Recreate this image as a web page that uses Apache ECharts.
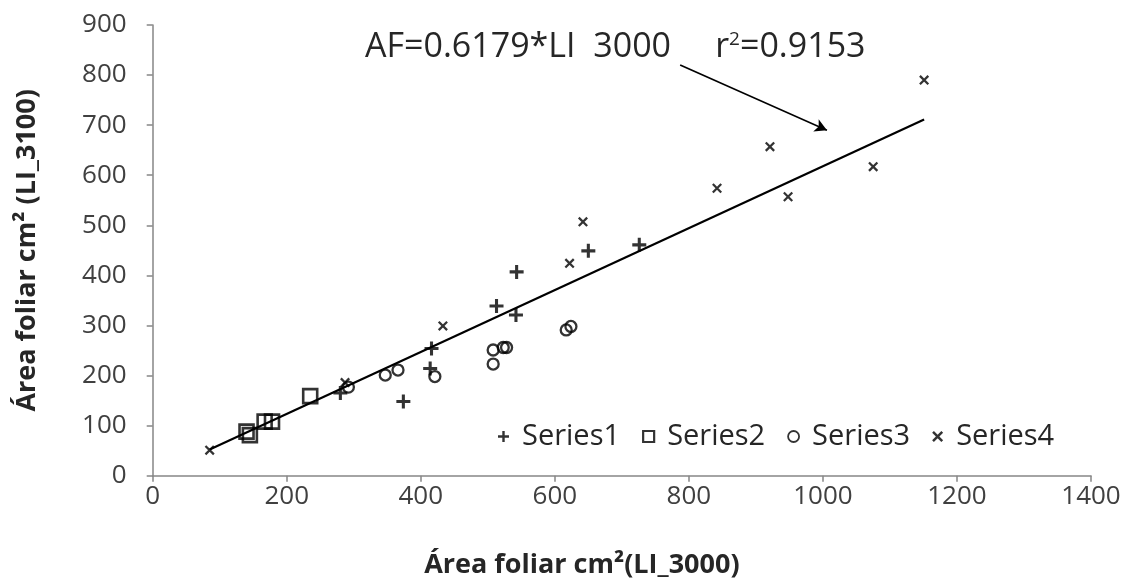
<!DOCTYPE html>
<html>
<head>
<meta charset="utf-8">
<script src="https://cdn.jsdelivr.net/npm/echarts@6/dist/echarts.min.js"></script>
<style>
html,body{margin:0;padding:0;background:#fff;}
#chart{width:1126px;height:584px;}
</style>
</head>
<body>
<div id="chart"></div>
<script>
// ---- data ----
const xTickLabels = [0, 200, 400, 600, 800, 1000, 1200, 1400];
const yTickLabels = [0, 100, 200, 300, 400, 500, 600, 700, 800, 900];

const series1X = [280, 374, 414, 416, 513, 542, 543, 650, 726];
const series1Y = [165, 148, 214, 254, 339, 321, 407, 449, 461];

const series2X = [140, 145, 167, 178, 235];
const series2Y = [88, 81, 108, 108, 159];

const series3X = [292, 347, 366, 421, 508, 508, 523, 528, 617, 624];
const series3Y = [177, 201, 211, 198, 251, 223, 256, 256, 291, 298];

const series4X = [85, 287, 433, 622, 642, 842, 921, 948, 1075, 1151];
const series4Y = [51, 186, 299, 424, 507, 574, 657, 557, 617, 790];

const seriesNames = ['Series1', 'Series2', 'Series3', 'Series4'];
const trendSlope = 0.6179;
const rSquared = 0.9153;
const arrowStart = [787, 820];
const arrowEnd = [1006, 690];

// ---- build ----
const zip = (xs, ys) => xs.map((x, i) => [x, ys[i]]);
const allX = [].concat(series1X, series2X, series3X, series4X);
const xMinData = Math.min(...allX), xMaxData = Math.max(...allX);

const FONT = '"Open Sans", "Liberation Sans", sans-serif';
const PLUS = 'path://M3.9,0H6.1V10H3.9Z M0,3.9H10V6.1H0Z';
const CROSS = 'path://M0,1.6L1.6,0L10,8.4L8.4,10Z M8.4,0L10,1.6L1.6,10L0,8.4Z';

const chart = echarts.init(document.getElementById('chart'), null, {renderer: 'canvas'});

const axisCommon = {
  axisLine: {show: true, lineStyle: {color: '#868686', width: 1.5}},
  axisTick: {show: true, length: 6, lineStyle: {color: '#868686', width: 1.5}},
  splitLine: {show: false},
  axisLabel: {color: '#404040', fontFamily: FONT, fontSize: 26, formatter: v => String(v)},
  nameTextStyle: {color: '#262626', fontFamily: FONT, fontSize: 27, fontWeight: 'bold'}
};

chart.setOption({
  animation: false,
  backgroundColor: '#fff',
  grid: {left: 152.7, right: 35, top: 25, bottom: 108.3, containLabel: false},
  xAxis: Object.assign({}, axisCommon, {
    type: 'value',
    min: xTickLabels[0], max: xTickLabels[xTickLabels.length - 1],
    interval: xTickLabels[1] - xTickLabels[0],
    name: 'Área foliar cm²(LI_3000)',
    nameLocation: 'middle', nameGap: 76,
    nameTextStyle: Object.assign({}, axisCommon.nameTextStyle, {padding: [0, 80, 0, 0]}),
    axisLabel: Object.assign({}, axisCommon.axisLabel, {margin: 8})
  }),
  yAxis: Object.assign({}, axisCommon, {
    type: 'value',
    min: yTickLabels[0], max: yTickLabels[yTickLabels.length - 1],
    interval: yTickLabels[1] - yTickLabels[0],
    name: 'Área foliar cm² (LI_3100)',
    nameLocation: 'middle', nameGap: 112,
    axisLabel: Object.assign({}, axisCommon.axisLabel, {margin: 26})
  }),
  legend: {
    left: 493, top: 417,
    itemGap: 22, itemWidth: 11, itemHeight: 11,
    textStyle: {color: '#262626', fontFamily: FONT, fontSize: 29, padding: [0, 0, 0, 8]},
    data: [
      {name: seriesNames[0], icon: PLUS, itemStyle: {color: '#000'}},
      {name: seriesNames[1], icon: 'rect', itemStyle: {color: '#fff', borderColor: '#000', borderWidth: 2.2}},
      {name: seriesNames[2], icon: 'circle', itemStyle: {color: '#fff', borderColor: '#000', borderWidth: 1.8}},
      {name: seriesNames[3], icon: CROSS, itemStyle: {color: '#000'}}
    ]
  },
  series: [
    {
      name: 'trend', type: 'line', silent: true, symbol: 'none',
      data: [[xMinData, trendSlope * xMinData], [xMaxData, trendSlope * xMaxData]],
      lineStyle: {color: '#000', width: 2.2},
      z: 1,
      markLine: {
        silent: true, symbol: ['none', 'arrow'], symbolSize: [10, 12],
        label: {show: false},
        lineStyle: {color: '#000', width: 1.6, type: 'solid'},
        data: [[{coord: arrowStart}, {coord: arrowEnd}]]
      }
    },
    {
      name: seriesNames[0], type: 'scatter', data: zip(series1X, series1Y),
      symbol: PLUS, symbolSize: 14, itemStyle: {color: '#000'}, z: 3
    },
    {
      name: seriesNames[1], type: 'scatter', data: zip(series2X, series2Y),
      symbol: 'rect', symbolSize: 14, itemStyle: {color: 'rgba(255,255,255,0)', borderColor: '#000', borderWidth: 2.6}, z: 3
    },
    {
      name: seriesNames[2], type: 'scatter', data: zip(series3X, series3Y),
      symbol: 'circle', symbolSize: 11, itemStyle: {color: 'rgba(255,255,255,0)', borderColor: '#000', borderWidth: 2.3}, z: 3
    },
    {
      name: seriesNames[3], type: 'scatter', data: zip(series4X, series4Y),
      symbol: CROSS, symbolSize: 10, itemStyle: {color: '#000'}, z: 3
    }
  ],
  graphic: [
    {
      type: 'text', left: 365, top: 30, z: 10,
      style: {
        text: '{n|AF=' + trendSlope + '*LI  3000     r}{s|2}{n|=' + rSquared + '}',
        rich: {
          n: {fontFamily: FONT, fontSize: 34, fill: '#262626', verticalAlign: 'bottom'},
          s: {fontFamily: FONT, fontSize: 19, fill: '#262626', verticalAlign: 'top'}
        }
      }
    }
  ]
});
</script>
</body>
</html>
